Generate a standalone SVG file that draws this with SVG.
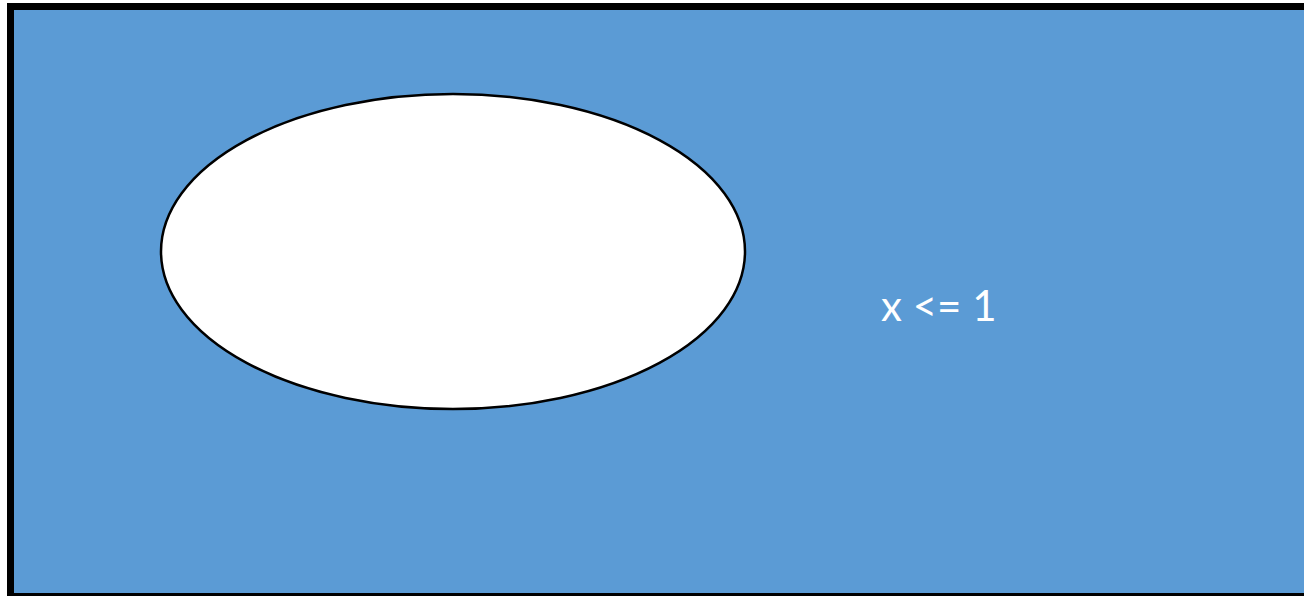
<svg xmlns="http://www.w3.org/2000/svg" width="1304" height="596" viewBox="0 0 1304 596">
<style>
.lbl{font-family:Lato,"Liberation Sans",sans-serif;font-size:42px;fill:#ffffff}
</style>
<rect width="1304" height="596" fill="#ffffff"/>
<g id="region">
<rect x="10.5" y="6.5" width="1300" height="590" fill="#5B9BD5" stroke="#000000" stroke-width="7"/>
<text class="lbl" x="881" y="321">x &lt;= 1</text>
</g>
<g id="set">
<ellipse cx="453" cy="251.5" rx="292" ry="157.5" fill="#ffffff" stroke="#000000" stroke-width="2.5"/>
</g>
<g id="connectors"/>
</svg>
